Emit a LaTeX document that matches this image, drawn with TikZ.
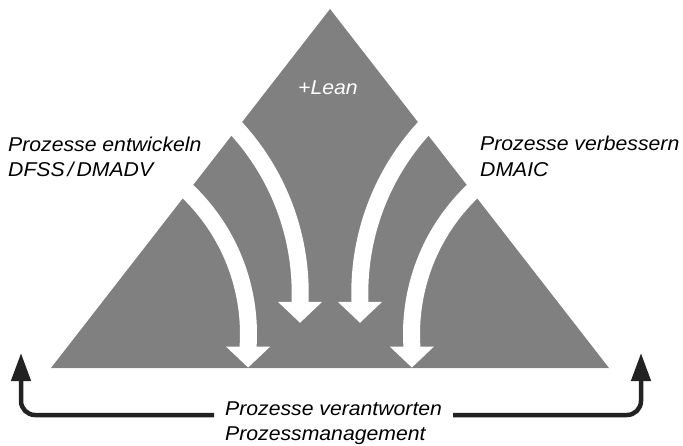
\documentclass[tikz,border=0pt]{standalone}
\usepackage{fontspec}
\setmainfont[FakeStretch=1.06]{Liberation Sans}
\usetikzlibrary{arrows.meta}
\definecolor{pyramid}{RGB}{128,128,128}
\definecolor{flowline}{RGB}{34,34,34}
\begin{document}
\begin{tikzpicture}[x=1pt,y=1pt,
  band/.style={draw=white, line width=17pt, line join=round,
    -{Triangle[length=21pt,width=43pt]}},
  caption/.style={font=\fontsize{20}{24}\selectfont\itshape,
    inner sep=0pt, anchor=base west},
  flow/.style={draw=flowline, line width=4.5pt, rounded corners=14pt,
    -{Triangle[length=28pt,width=19pt]}}
]
\useasboundingbox (0,0) rectangle (683,445);

% the pyramid
\fill[pyramid] (51,77) -- (330,436) -- (609,77) -- cycle;

% white curved arrows cutting the pyramid
\draw[band] ([shift={(49:197.5)}]51,111)
  arc[start angle=49, end angle=-3.5, radius=197.5] -- ++(0,-21.5);
\draw[band] ([shift={(44:243.7)}]56.5,152.1)
  arc[start angle=44, end angle=-2.1, radius=243.7] -- ++(0,-21);
\draw[band] ([shift={(136:243.7)}]603.5,152.1)
  arc[start angle=136, end angle=182.1, radius=243.7] -- ++(0,-21);
\draw[band] ([shift={(131:197.5)}]609,111)
  arc[start angle=131, end angle=183.5, radius=197.5] -- ++(0,-21.5);

% labels
\node[caption] (devA) at (8,293.5) {Prozesse entwickeln};
\node[caption] (devB) at (8,268.5) {DFSS\hspace{0.15em}/\hspace{0.15em}DMADV};
\node[caption] (impA) at (480,294.5) {Prozesse verbessern};
\node[caption] (impB) at (480,268.5) {DMAIC};
\node[caption, anchor=base, text=white] (lean) at (328,350.7) {+Lean};
\node[caption, inner xsep=11pt] (own) at (214,30) {Prozesse verantworten};
\node[caption] (pm) at (225,5) {Prozessmanagement};

% process ownership connector
\coordinate (ownL) at (21,92);
\coordinate (ownR) at (641,92);
\draw[flow] (own.base west) -| (ownL);
\draw[flow] (own.base east) -| (ownR);
\end{tikzpicture}
\end{document}
